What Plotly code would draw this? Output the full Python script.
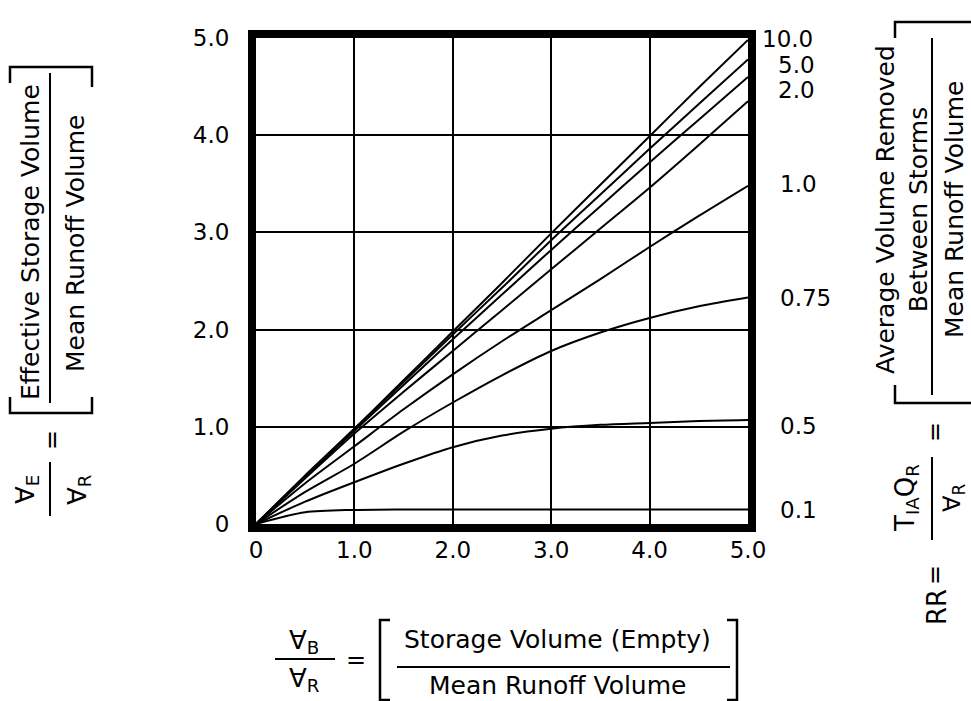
import plotly.graph_objects as go

# storage ratio VB/VR (x) and effective storage ratio VE/VR (y), one list per RR curve
storage_ratio = [0, 0.5, 1, 1.5, 2, 2.5, 3, 3.5, 4, 4.5, 5]

rr_10 = [0, 0.50, 0.98, 1.48, 1.98, 2.48, 2.99, 3.49, 3.99, 4.49, 4.98]
rr_5 = [0, 0.49, 0.98, 1.46, 1.95, 2.43, 2.92, 3.39, 3.86, 4.32, 4.78]
rr_2 = [0, 0.49, 0.96, 1.43, 1.90, 2.36, 2.82, 3.27, 3.72, 4.16, 4.60]
rr_15 = [0, 0.47, 0.93, 1.36, 1.78, 2.20, 2.62, 3.04, 3.46, 3.90, 4.35]
rr_1 = [0, 0.42, 0.80, 1.18, 1.54, 1.88, 2.20, 2.52, 2.85, 3.17, 3.48]
rr_075 = [0, 0.33, 0.62, 0.95, 1.25, 1.53, 1.78, 1.97, 2.12, 2.24, 2.33]
rr_05 = [0, 0.23, 0.43, 0.62, 0.79, 0.91, 0.98, 1.02, 1.04, 1.06, 1.07]
rr_01 = [0, 0.12, 0.145, 0.15, 0.15, 0.15, 0.15, 0.15, 0.15, 0.15, 0.15]

curves = [rr_10, rr_5, rr_2, rr_15, rr_1, rr_075, rr_05, rr_01]
curve_labels = ["10.0", "5.0", "2.0", "", "1.0", "0.75", "0.5", "0.1"]

tick_vals = [0, 1, 2, 3, 4, 5]
tick_text = ["0", "1.0", "2.0", "3.0", "4.0", "5.0"]

W, H = 971, 701
L, R, T, B = 256, 748, 38, 524
FONT = "DejaVu Sans"


def fx(px):
    return (px - L) / (R - L)


def fy(py):
    return (B - py) / (B - T)


fig = go.Figure()
for ys in curves:
    fig.add_trace(go.Scatter(
        x=storage_ratio, y=ys, mode="lines",
        line=dict(color="black", width=2, shape="spline", smoothing=0.8),
        showlegend=False, hoverinfo="skip",
    ))

axis_style = dict(
    range=[0, 5], tickvals=tick_vals, ticktext=tick_text,
    showgrid=True, gridcolor="black", gridwidth=2,
    showline=True, linecolor="black", linewidth=8, mirror=True,
    zeroline=False, ticks="", fixedrange=True,
    tickfont=dict(family=FONT, size=23, color="black"),
)
fig.update_xaxes(**axis_style, ticklabelstandoff=-2)
fig.update_yaxes(**axis_style, ticklabelstandoff=14)

annotations = []
shapes = []


def text(s, x, y, size=25, angle=0):
    annotations.append(dict(
        text=s, x=fx(x), y=fy(y), xref="paper", yref="paper",
        xanchor="center", yanchor="middle", showarrow=False, textangle=angle,
        font=dict(family=FONT, size=size, color="black"),
    ))


def line(x0, y0, x1, y1, w=2):
    shapes.append(dict(type="line", xref="paper", yref="paper",
                       x0=fx(x0), y0=fy(y0), x1=fx(x1), y1=fy(y1),
                       line=dict(color="black", width=w)))


def path(pts, w=2.5):
    d = "M " + " L ".join(f"{fx(a)},{fy(b)}" for a, b in pts)
    shapes.append(dict(type="path", xref="paper", yref="paper", path=d,
                       line=dict(color="black", width=w)))


# RR labels at right of the frame
label_y = [39, 65, 90, None, 184, 298, 426, 510]
label_x = [760, 776, 776, None, 778, 778, 778, 778]
for lab, ly, lx in zip(curve_labels, label_y, label_x):
    if lab:
        annotations.append(dict(
            text=lab, x=fx(lx), y=fy(ly), xref="paper", yref="paper",
            xanchor="left", yanchor="middle", showarrow=False,
            font=dict(family=FONT, size=23, color="black"),
        ))

# x-axis formula
text("∀<sub>B</sub>", 304, 641, 26)
line(275, 659, 335, 659)
text("∀<sub>R</sub>", 304, 679, 26)
text("=", 356, 660, 24)
path([(390, 620), (380, 620), (380, 700), (390, 700)])
path([(727, 620), (737, 620), (737, 700), (727, 700)])
text("Storage Volume (Empty)", 557, 639)
line(397, 667, 730, 667)
text("Mean Runoff Volume", 557, 685)

# y-axis formula (rotated)
text("Effective Storage Volume", 30, 242, 25, -90)
line(50, 73, 50, 403)
text("Mean Runoff Volume", 76, 244, 25, -90)
path([(10, 83), (10, 67), (92, 67), (92, 87)])
path([(10, 397), (10, 413), (92, 413), (92, 397)])
text("=", 52, 440, 24, -90)
text("∀<sub>E</sub>", 26, 490, 26, -90)
line(50, 462, 50, 516)
text("∀<sub>R</sub>", 78, 490, 26, -90)

# right formula (rotated)
text("Average Volume Removed<br>Between Storms", 902, 210, 25, -90)
line(932, 38, 932, 395)
text("Mean Runoff Volume", 954, 210, 25, -90)
path([(895, 38), (895, 22), (975, 22)])
path([(895, 385), (895, 403), (975, 403)])
text("=", 935, 432, 24, -90)
text("T<sub>IA</sub>Q<sub>R</sub>", 906, 498, 26, -90)
line(932, 457, 932, 540)
text("∀<sub>R</sub>", 953, 498, 24, -90)
text("=", 935, 575, 24, -90)
text("RR", 937, 607, 26, -90)

fig.update_layout(
    width=W, height=H,
    margin=dict(l=L, r=W - R, t=T, b=H - B, pad=0),
    paper_bgcolor="white", plot_bgcolor="white",
    annotations=annotations, shapes=shapes,
    showlegend=False,
)

# drop the browser's default 8px body margin so the figure sits at the page corner
fig.write_html("out.html", config={"displayModeBar": False},
               post_script="document.body.style.margin='0';")
